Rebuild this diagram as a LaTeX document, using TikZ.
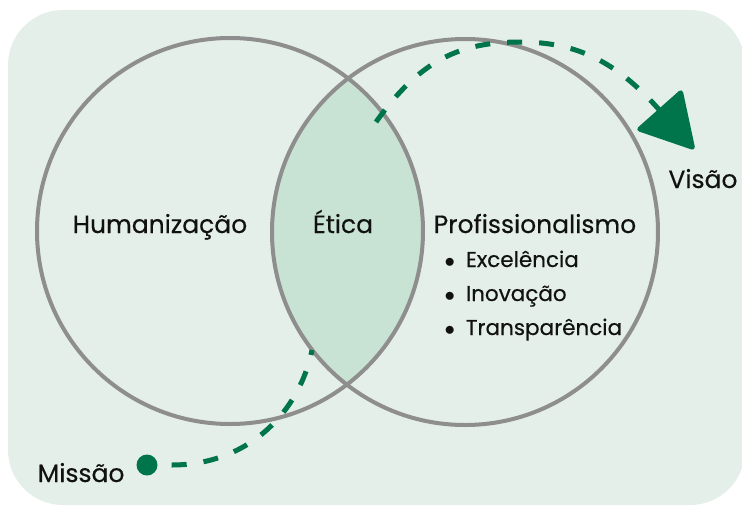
\documentclass[tikz,border=0pt]{standalone}
\usepackage{fontspec}
\setmainfont{Poppins}[FakeBold=0.35]
\usetikzlibrary{arrows.meta}
\definecolor{bgmint}{HTML}{E5EFEA}
\definecolor{lensmint}{HTML}{C8E3D4}
\definecolor{ringgray}{HTML}{8E8E8E}
\definecolor{pathgreen}{HTML}{00744A}
\definecolor{inkblack}{HTML}{111111}

\begin{document}
\begin{tikzpicture}[x=1pt, y=-1pt,
    bigtext/.style={font=\fontsize{25}{30}\selectfont, text=inkblack, anchor=base},
    itemtext/.style={font=\fontsize{21.5}{26}\selectfont, text=inkblack, anchor=base west},
    ring/.style={draw=ringgray, line width=4pt},
    dashline/.style={draw=pathgreen, line width=5pt, dash pattern=on 15pt off 17pt}]
      \useasboundingbox (0,0) rectangle (742,507);
      \fill[bgmint, rounded corners=55pt] (8,10) rectangle (745,505);
      % intersection of the two sets
      \begin{scope}
        \clip (230,231) circle (193);
        \fill[lensmint] (465,232) circle (193);
      \end{scope}
      \draw[ring] (230,231) circle (193);
      \draw[ring] (465,232) circle (193);
      \node[bigtext] (human) at (160,233) {Humanização};
      \node[bigtext] (etica) at (343,233) {Ética};
      \node[bigtext] (prof) at (535,233) {Profissionalismo};
      \foreach \txt/\yy in {Excelência/267, Inovação/301, Transparência/335}
        \node[itemtext] at (441,\yy) {$\bullet$\hspace{11pt}\txt};
      % mission to vision path
      \node[circle, fill=pathgreen, minimum size=21pt, inner sep=0pt] (missdot) at (147,465) {};
      \node[bigtext, anchor=base east] (missao) at (128,482) {Missão};
      \node[bigtext] (visao) at (703,188) {Visão};
      \coordinate (lensin) at (312,350);
      \coordinate (lensout) at (376,122);
      \coordinate (vtip) at (694,149);
      \draw[dashline, shorten <=14pt] (missdot) .. controls (250,465) and (300,410) .. (lensin);
      \draw[dashline, -{Triangle[length=56pt, width=62pt, round]}] (lensout) .. controls (420,60) and (460,42) .. (520,42)
        .. controls (575,42) and (615,60) .. (vtip);
\end{tikzpicture}
\end{document}
